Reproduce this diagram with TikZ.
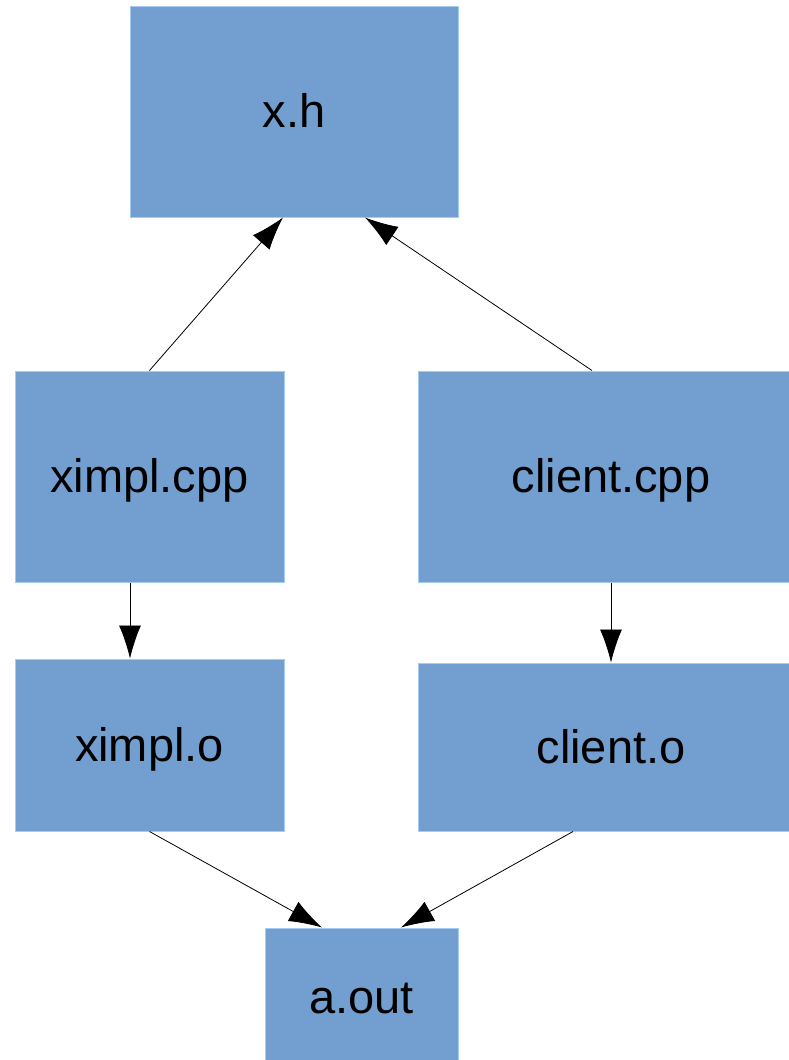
\documentclass[tikz,border=0pt]{standalone}
\usepackage{fontspec}
\setmainfont{Liberation Sans}
\usetikzlibrary{arrows.meta}
\usetikzlibrary{calc}
\definecolor{boxblue}{HTML}{729FCF}
\definecolor{boxedge}{HTML}{A6CBF2}
\tikzset{b/.style={fill=boxblue,draw=boxedge,line width=1pt,inner sep=0pt,font=\fontsize{47}{47}\selectfont,text height=42.5pt,text depth=10pt}}
\tikzset{a/.style={-{Latex[length=33pt,width=22pt]},line width=.8pt}}

\begin{document}
\begin{tikzpicture}[x=1pt,y=-1pt]
            \useasboundingbox (0,0) rectangle (789,1060);
            \node[b,minimum width=328pt,minimum height=211pt] (xh) at (294,111.5) {x.h};
            \node[b,minimum width=269pt,minimum height=211pt] (ximplcpp) at (149.5,476.5) {ximpl.cpp};
            \node[b,minimum width=386pt,minimum height=211pt] (clientcpp) at (611,476.5) {client.cpp};
            \node[b,minimum width=269pt,minimum height=172pt] (ximplo) at (149.5,745) {ximpl.o};
            \node[b,minimum width=386pt,minimum height=168pt] (cliento) at (611,747) {client.o};
            \node[b,minimum width=193pt,minimum height=138pt] (aout) at (361.5,997) {a.out};
            \draw[a] (ximplcpp.north) -- ([xshift=-11pt]xh.south);
            \draw[a] ([xshift=-19pt]clientcpp.north) -- ([xshift=71pt]xh.south);
            \draw[a] ([xshift=-19.5pt]ximplcpp.south) -- ([xshift=-19.5pt]ximplo.north);
            \draw[a] (clientcpp.south) -- (cliento.north);
            \draw[a] (ximplo.south) -- ([xshift=-39.5pt]aout.north);
            \draw[a] ([xshift=-38pt]cliento.south) -- ([xshift=39.5pt]aout.north);
          \end{tikzpicture}
\end{document}
